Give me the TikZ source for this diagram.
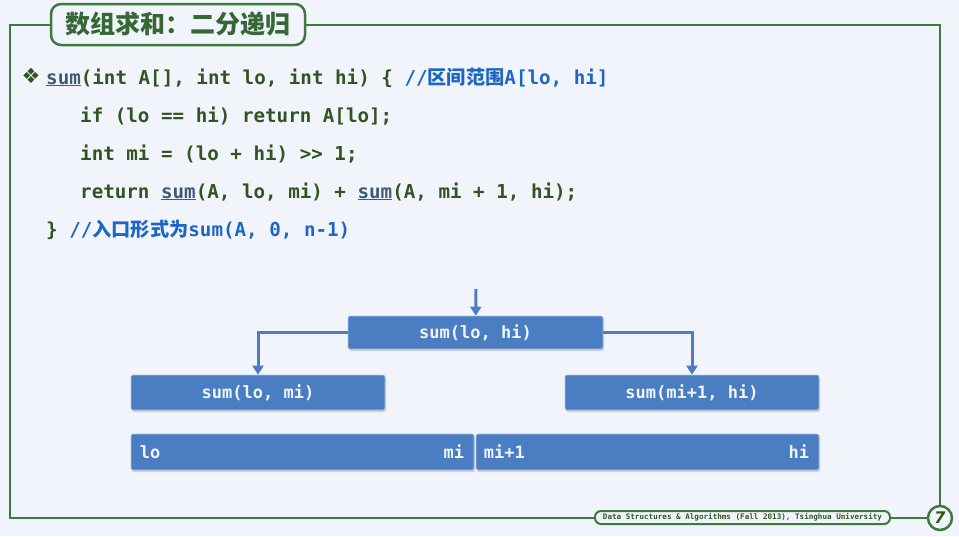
\documentclass[tikz,border=0pt]{standalone}
\usepackage{fontspec}
\setmonofont{DejaVu Sans Mono}
\newfontfamily\cjk{Noto Sans CJK SC}
\newfontfamily\dejavu{DejaVu Sans}
\usetikzlibrary{arrows.meta,shadows}
\definecolor{bg}{RGB}{241,245,251}
\definecolor{frame}{RGB}{62,122,62}
\definecolor{code}{RGB}{50,84,34}
\definecolor{note}{RGB}{30,102,196}
\definecolor{fncol}{RGB}{62,92,122}
\definecolor{blk}{RGB}{74,125,193}
\newcommand{\callsum}{\textcolor{fncol}{\underline{sum}}}
\newcommand{\cmt}[1]{\textcolor{note}{#1}}

\begin{document}
\begin{tikzpicture}[x=1pt,y=-1pt,
    codeline/.style={anchor=base west,inner sep=0pt,text=code,font=\ttfamily\bfseries\fontsize{19.2}{23}\selectfont},
    seg/.style={fill=blk,draw=blk!45!white,line width=0.6pt,rounded corners=2pt,
        drop shadow={opacity=0.3,shadow xshift=1pt,shadow yshift=-2pt},
        text=white!92!blk,font=\ttfamily\bfseries\fontsize{17}{17}\selectfont},
    lbl/.style={inner sep=0pt,text=white!92!blk,font=\ttfamily\bfseries\fontsize{17}{17}\selectfont},
    arr/.style={-{Triangle[length=9pt,width=11pt]},draw=blk!95!gray,line width=3pt},
    elbow/.style={to path={-| (\tikztotarget)}}]
    \useasboundingbox (0,0) rectangle (959,536);
    \fill[bg] (0,0) rectangle (959,536);
    \draw[frame,line width=2.5pt] (10,25) rectangle (940,518);

    \node[draw=frame,line width=2.5pt,fill=bg,rounded corners=10pt,minimum width=254pt,minimum height=41pt,
        text=frame!85!black,font=\cjk\bfseries\fontsize{25}{25}\selectfont] (t) at (178,24.5) {数组求和：二分递归};
    \node[draw=frame,line width=2pt,fill=bg,rounded corners=6pt,minimum width=295pt,minimum height=13pt,
        inner sep=0pt,text=code,font=\ttfamily\bfseries\fontsize{7.6}{8}\selectfont] (f) at (742.5,517.5)
        {Data Structures \& Algorithms (Fall 2013), Tsinghua University};
    \node[circle,draw=frame,line width=2.5pt,fill=bg,minimum size=24pt,inner sep=0pt,
        text=code,font=\dejavu\bfseries\itshape\fontsize{16}{16}\selectfont] (p) at (940,518) {7};

    \node[text=code,inner sep=0pt,font=\dejavu\fontsize{21}{21}\selectfont] (b) at (31,76) {❖};
    \node[codeline] (c1) at (46,84) {\callsum(int A[], int lo, int hi) \{ \cmt{//{\cjk\bfseries 区间范围}A[lo, hi]}};
    \node[codeline] (c2) at (80,122) {if (lo == hi) return A[lo];};
    \node[codeline] (c3) at (80,160) {int mi = (lo + hi) >> 1;};
    \node[codeline] (c4) at (80,198) {return \callsum(A, lo, mi) + \callsum(A, mi + 1, hi);};
    \node[codeline] (c5) at (46,236) {\} \cmt{//{\cjk\bfseries 入口形式为}sum(A, 0, n-1)}};

    \node[seg,minimum width=255pt,minimum height=33pt] (0) at (475.5,332.5) {sum(lo, hi)};
    \node[seg,minimum width=254pt,minimum height=35pt] (1) at (258,392.5) {sum(lo, mi)};
    \node[seg,minimum width=254pt,minimum height=35pt] (2) at (692,392.5) {sum(mi+1, hi)};
    \node[seg,minimum width=343pt,minimum height=36pt] (3) at (302.5,452) {};
    \node[seg,minimum width=343pt,minimum height=36pt] (4) at (647.5,452) {};
    \node[lbl,anchor=west] (3a) at ([xshift=9pt]3.west) {lo};
    \node[lbl,anchor=east] (3b) at ([xshift=-10pt]3.east) {mi};
    \node[lbl,anchor=west] (4a) at ([xshift=8pt]4.west) {mi+1};
    \node[lbl,anchor=east] (4b) at ([xshift=-10pt]4.east) {hi};

    \coordinate (in) at (476,289);
    \draw[arr] (in) -- (0);
    \draw[arr] (0.west) -| (1.north);
    \draw[arr] (0.east) -| (2.north);
\end{tikzpicture}
\end{document}
